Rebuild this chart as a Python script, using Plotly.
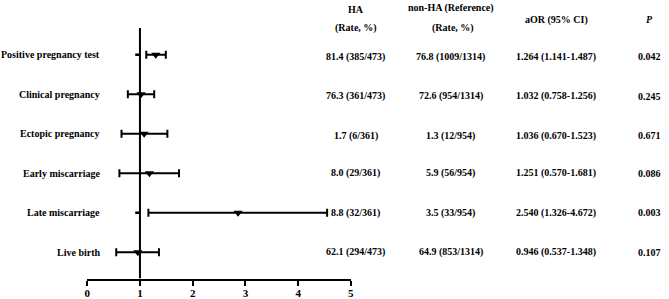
import plotly.graph_objects as go

outcomes = ["Positive pregnancy test", "Clinical pregnancy", "Ectopic pregnancy",
            "Early miscarriage", "Late miscarriage", "Live birth"]
or_point = [1.30, 1.02, 1.08, 1.18, 2.86, 0.96]
ci_lo = [1.12, 0.77, 0.65, 0.61, 1.16, 0.55]
ci_hi = [1.49, 1.27, 1.52, 1.74, 4.55, 1.36]
stub_lo = [0.91, None, None, None, 0.91, None]
ha_rate = ["81.4 (385/473)", "76.3 (361/473)", "1.7 (6/361)",
           "8.0 (29/361)", "8.8 (32/361)", "62.1 (294/473)"]
nonha_rate = ["76.8 (1009/1314)", "72.6 (954/1314)", "1.3 (12/954)",
              "5.9 (56/954)", "3.5 (33/954)", "64.9 (853/1314)"]
aor_ci = ["1.264 (1.141-1.487)", "1.032 (0.758-1.256)", "1.036 (0.670-1.523)",
          "1.251 (0.570-1.681)", "2.540 (1.326-4.672)", "0.946 (0.537-1.348)"]
p_vals = ["0.042", "0.245", "0.671", "0.086", "0.003", "0.107"]
x_ticks = [0, 1, 2, 3, 4, 5]

W, H = 669, 299
FONT = "Liberation Serif"
rows = list(range(len(outcomes)))

fig = go.Figure()

# stubs left of the reference line
sx, sy = [], []
for i, s in enumerate(stub_lo):
    if s is not None:
        sx += [s, 1.0, None]
        sy += [i, i, None]
fig.add_trace(go.Scatter(x=sx, y=sy, mode="lines", line=dict(color="black", width=2.5),
                         hoverinfo="skip", showlegend=False))

fig.add_trace(go.Scatter(
    x=or_point, y=rows, mode="markers",
    marker=dict(symbol="triangle-down", size=8, color="black"),
    error_x=dict(type="data", symmetric=False,
                 array=[h - p for h, p in zip(ci_hi, or_point)],
                 arrayminus=[p - l for p, l in zip(or_point, ci_lo)],
                 color="black", thickness=2, width=4),
    showlegend=False))

# reference line at 1
fig.add_shape(type="line", x0=1, x1=1, y0=-0.68, y1=5.67, xref="x", yref="y",
              line=dict(color="black", width=2))

def px(xp):
    return xp / W

def ann(text, xpaper, y, yref="y", anchor="center", ypaper=None, yshift=0):
    fig.add_annotation(text=text, x=xpaper, xref="paper",
                       y=y if ypaper is None else ypaper,
                       yref=yref if ypaper is None else "paper",
                       xanchor=anchor, yanchor="middle", showarrow=False, yshift=yshift,
                       font=dict(family=FONT, size=10, color="black"))

for i in rows:
    ys = -2 if i < 3 else 0
    ann("<b>%s</b>" % outcomes[i], px(100), i, anchor="right")
    ann("<b>%s</b>" % ha_rate[i], px(356), i, yshift=ys)
    ann("<b>%s</b>" % nonha_rate[i], px(452), i, yshift=ys)
    ann("<b>%s</b>" % aor_ci[i], px(558), i, yshift=ys)
    ann("<b>%s</b>" % p_vals[i], px(652), i, yshift=ys)

def top(ypix):
    return 1 - ypix / H

ann("<b>HA</b>", px(356), None, ypaper=top(9.5))
ann("<b>(Rate, %)</b>", px(356), None, ypaper=top(28))
ann("<b>non-HA (Reference)</b>", px(452), None, ypaper=top(8.5))
ann("<b>(Rate, %)</b>", px(454), None, ypaper=top(28))
ann("<b>aOR (95% CI)</b>", px(559), None, ypaper=top(20))
ann("<b><i>P</i></b>", px(652), None, ypaper=top(20))

fig.update_layout(
    width=W, height=H, margin=dict(l=0, r=0, t=0, b=0),
    plot_bgcolor="white", paper_bgcolor="white",
    xaxis=dict(domain=[85 / W, 351 / W], range=[0, 5], tickvals=x_ticks,
               showgrid=False, zeroline=False, showline=True, linecolor="black",
               linewidth=2, ticks="outside", ticklen=5, tickwidth=2, tickcolor="black",
               ticklabelstandoff=-2,
               tickfont=dict(family=FONT, size=11, color="black", weight="bold")),
    yaxis=dict(domain=[19.5 / H, 1], range=[5.669, -1.389], visible=False,
               showgrid=False, zeroline=False),
)

fig.write_html("out.html", config={"displayModeBar": False},
               post_script="document.body.style.margin='0';document.body.style.overflow='hidden';")
